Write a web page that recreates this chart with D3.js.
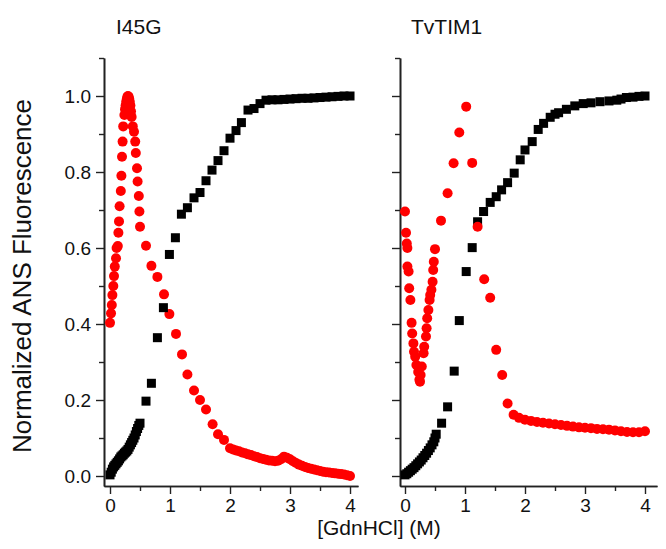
<!DOCTYPE html>
<html>
<head>
<meta charset="utf-8">
<script src="https://cdn.jsdelivr.net/npm/d3@7"></script>
<style>
  html, body { margin: 0; padding: 0; background: #fff; }
  svg { display: block; }
  text { font-family: "Liberation Sans", Arial, sans-serif; }
</style>
</head>
<body>
<svg id="chart" width="666" height="549"></svg>
<script>
// ---------- DATA ----------
const panelTitles = ["I45G", "TvTIM1"];
const xTickLabels = [0, 1, 2, 3, 4];
const yTickLabels = [0.0, 0.2, 0.4, 0.6, 0.8, 1.0];

// I45G – ANS (red circles)
const i45gAnsX = [0.0,0.017,0.03,0.04,0.055,0.067,0.08,0.1,0.11,0.13,0.14,0.15,0.16,0.18,0.19,0.2,0.21,0.22,0.24,0.25,0.26,0.27,0.28,0.29,0.3,0.31,0.32,0.33,0.34,0.35,0.36,0.38,0.4,0.42,0.43,0.45,0.46,0.48,0.49,0.5,0.6,0.69,0.79,0.9,0.99,1.1,1.2,1.29,1.4,1.5,1.6,1.71,1.8,1.9,2.0,2.05,2.1,2.15,2.2,2.25,2.3,2.35,2.4,2.45,2.5,2.55,2.6,2.65,2.7,2.75,2.8,2.85,2.9,2.95,3.0,3.05,3.1,3.15,3.2,3.25,3.3,3.35,3.4,3.45,3.5,3.55,3.6,3.65,3.7,3.75,3.8,3.85,3.9,3.95,4.0];
const i45gAnsY = [0.403,0.428,0.45,0.476,0.50,0.526,0.551,0.573,0.60,0.605,0.64,0.67,0.71,0.75,0.79,0.84,0.88,0.92,0.95,0.965,0.975,0.985,0.992,0.998,1.0,0.998,0.993,0.985,0.975,0.96,0.945,0.92,0.906,0.88,0.85,0.81,0.775,0.737,0.696,0.656,0.606,0.553,0.524,0.478,0.426,0.374,0.32,0.267,0.225,0.20,0.175,0.136,0.11,0.095,0.073,0.070,0.067,0.065,0.062,0.060,0.057,0.055,0.052,0.050,0.047,0.045,0.043,0.041,0.040,0.039,0.040,0.044,0.051,0.048,0.044,0.039,0.034,0.030,0.027,0.024,0.021,0.019,0.017,0.015,0.013,0.011,0.010,0.009,0.008,0.007,0.006,0.005,0.004,0.002,0.0];

// I45G – unfolding (black squares)
const i45gUnfX = [0.0,0.02,0.04,0.06,0.08,0.1,0.12,0.14,0.16,0.18,0.2,0.22,0.24,0.26,0.28,0.3,0.32,0.34,0.36,0.38,0.4,0.42,0.44,0.46,0.48,0.5,0.6,0.69,0.79,0.89,0.99,1.09,1.19,1.29,1.4,1.5,1.6,1.7,1.8,1.9,2.0,2.1,2.19,2.3,2.4,2.5,2.6,2.7,2.8,2.9,3.0,3.1,3.2,3.3,3.4,3.5,3.6,3.7,3.8,3.9,4.0];
const i45gUnfY = [0.003,0.010,0.018,0.024,0.028,0.032,0.036,0.040,0.045,0.050,0.053,0.056,0.060,0.063,0.066,0.070,0.076,0.082,0.088,0.094,0.100,0.108,0.117,0.125,0.133,0.139,0.197,0.244,0.364,0.443,0.583,0.627,0.689,0.706,0.732,0.746,0.777,0.805,0.830,0.856,0.889,0.909,0.930,0.963,0.967,0.980,0.989,0.990,0.990,0.991,0.992,0.993,0.994,0.994,0.995,0.996,0.997,0.998,0.999,1.0,1.0];

// TvTIM1 – ANS (red circles)
const tvtimAnsX = [0.0,0.017,0.03,0.04,0.04,0.06,0.07,0.09,0.11,0.12,0.14,0.15,0.17,0.19,0.22,0.24,0.25,0.26,0.28,0.31,0.32,0.35,0.36,0.37,0.39,0.41,0.42,0.44,0.46,0.47,0.48,0.5,0.6,0.71,0.81,0.905,1.02,1.12,1.21,1.32,1.42,1.52,1.62,1.71,1.81,1.9,2.0,2.1,2.2,2.3,2.4,2.5,2.6,2.7,2.8,2.9,3.0,3.1,3.2,3.3,3.4,3.5,3.6,3.7,3.8,3.9,4.0];
const tvtimAnsY = [0.696,0.640,0.612,0.600,0.551,0.538,0.494,0.463,0.403,0.375,0.349,0.327,0.314,0.292,0.274,0.253,0.248,0.266,0.288,0.323,0.340,0.367,0.389,0.415,0.437,0.463,0.476,0.490,0.511,0.542,0.564,0.597,0.672,0.744,0.823,0.904,0.972,0.824,0.656,0.518,0.469,0.332,0.266,0.191,0.161,0.153,0.148,0.145,0.142,0.140,0.138,0.136,0.134,0.132,0.130,0.128,0.127,0.126,0.124,0.123,0.122,0.120,0.118,0.116,0.115,0.115,0.118];

// TvTIM1 – unfolding (black squares)
const tvtimUnfX = [0.0,0.03,0.06,0.09,0.12,0.15,0.18,0.21,0.24,0.27,0.3,0.33,0.36,0.39,0.42,0.45,0.48,0.5,0.52,0.61,0.71,0.82,0.905,1.02,1.12,1.21,1.31,1.42,1.52,1.61,1.71,1.82,1.92,2.0,2.12,2.22,2.31,2.42,2.5,2.56,2.69,2.83,2.97,3.1,3.25,3.4,3.53,3.6,3.69,3.8,3.9,4.0];
const tvtimUnfY = [0.003,0.006,0.010,0.014,0.018,0.022,0.027,0.032,0.037,0.042,0.048,0.054,0.060,0.067,0.074,0.082,0.090,0.100,0.110,0.139,0.182,0.276,0.409,0.538,0.601,0.669,0.696,0.720,0.735,0.753,0.772,0.797,0.832,0.858,0.880,0.912,0.928,0.944,0.952,0.956,0.965,0.974,0.980,0.982,0.985,0.987,0.989,0.992,0.996,0.997,0.999,1.0];

// ---------- DRAW ----------
const svg = d3.select("#chart");
const y = d3.scaleLinear().domain([-0.0263, 1.1]).range([486, 58]);

const panels = [
  { title: panelTitles[0], x: d3.scaleLinear().domain([-0.1, 4.133]).range([104, 358]),
    ans: i45gAnsX.map((v, i) => [v, i45gAnsY[i]]),
    unf: i45gUnfX.map((v, i) => [v, i45gUnfY[i]]),
    labels: true, redOnTop: false, titleX: 116 },
  { title: panelTitles[1], x: d3.scaleLinear().domain([-0.0833, 4.2]).range([400, 657]),
    ans: tvtimAnsX.map((v, i) => [v, tvtimAnsY[i]]),
    unf: tvtimUnfX.map((v, i) => [v, tvtimUnfY[i]]),
    labels: false, redOnTop: true, titleX: 411 }
];

const minorX = [0.5, 1.5, 2.5, 3.5];
const minorY = [0.1, 0.3, 0.5, 0.7, 0.9, 1.1];

function styleAxis(g) {
  g.selectAll("path.domain").attr("stroke", "#222").attr("stroke-width", 1.6);
  g.selectAll(".tick line").attr("stroke", "#222").attr("stroke-width", 1.4);
  g.selectAll(".tick text").attr("fill", "#111")
    .style("font-family", '"Liberation Sans", Arial, sans-serif').style("font-size", "19px");
}

panels.forEach(p => {
  const g = svg.append("g");
  const x0 = p.x.range()[0];

  const ya = g.append("g").attr("transform", `translate(${x0},0)`)
    .call(d3.axisLeft(y).tickValues(yTickLabels).tickSize(8).tickSizeOuter(0).tickPadding(5)
      .tickFormat(p.labels ? d3.format(".1f") : () => ""));
  styleAxis(ya);
  const yam = g.append("g").attr("transform", `translate(${x0},0)`)
    .call(d3.axisLeft(y).tickValues(minorY).tickSize(5).tickSizeOuter(0).tickFormat(() => ""));
  styleAxis(yam);

  const xa = g.append("g").attr("transform", `translate(0,486)`)
    .call(d3.axisBottom(p.x).tickValues(xTickLabels).tickSize(8).tickSizeOuter(0).tickPadding(5)
      .tickFormat(d3.format("d")));
  styleAxis(xa);
  const xam = g.append("g").attr("transform", `translate(0,486)`)
    .call(d3.axisBottom(p.x).tickValues(minorX).tickSize(5).tickSizeOuter(0).tickFormat(() => ""));
  styleAxis(xam);

  const drawRed = () => g.append("g").selectAll("circle").data(p.ans).join("circle")
    .attr("cx", d => p.x(d[0])).attr("cy", d => y(d[1])).attr("r", 5).attr("fill", "#ff0000");
  const s = 9;
  const drawBlack = () => g.append("g").selectAll("rect").data(p.unf).join("rect")
    .attr("x", d => p.x(d[0]) - s / 2).attr("y", d => y(d[1]) - s / 2)
    .attr("width", s).attr("height", s).attr("fill", "#000");

  if (p.redOnTop) { drawBlack(); drawRed(); } else { drawRed(); drawBlack(); }

  svg.append("text").attr("x", p.titleX).attr("y", 34).attr("font-size", 21).attr("fill", "#111")
    .text(p.title);
});

svg.append("text")
  .attr("transform", "translate(31,276) rotate(-90)")
  .attr("text-anchor", "middle").attr("font-size", 26).attr("fill", "#111")
  .text("Normalized ANS Fluorescence");

svg.append("text")
  .attr("x", 379).attr("y", 535).attr("text-anchor", "middle")
  .attr("font-size", 21).attr("fill", "#111")
  .text("[GdnHCl] (M)");
</script>
</body>
</html>
